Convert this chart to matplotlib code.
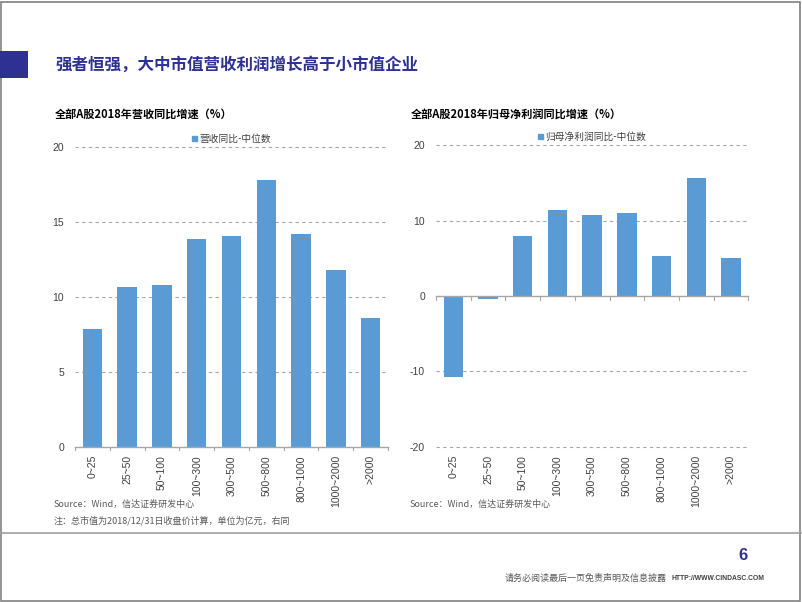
"""Recreate the two-panel market-cap growth chart."""

import matplotlib.pyplot as plt
from matplotlib.patches import Rectangle

plt.rcParams["font.family"] = ["Noto Sans CJK SC", "DejaVu Sans"]

CATEGORIES = ["0~25", "25~50", "50~100", "100~300", "300~500",
              "500~800", "800~1000", "1000~2000", ">2000"]
REVENUE_GROWTH = [7.84, 10.69, 10.78, 13.87, 14.1, 17.84, 14.23, 11.82, 8.62]
PROFIT_GROWTH = [-10.8, -0.4, 7.97, 11.38, 10.71, 10.98, 5.35, 15.71, 5.09]

TITLE = "强者恒强，大中市值营收利润增长高于小市值企业"
LEFT_TITLE = "全部A股2018年营收同比增速（%）"
RIGHT_TITLE = "全部A股2018年归母净利润同比增速（%）"
LEFT_LEGEND = "营收同比-中位数"
RIGHT_LEGEND = "归母净利润同比-中位数"

BAR_COLOR = "#5B9BD5"
NAVY = "#2E3192"
GRID = "#A6A6A6"
TEXT = "#404040"
LATIN = ["Liberation Sans", "DejaVu Sans"]

W, H = 802, 602


def fx(px):
    return px / W


def fy(py):
    return 1 - py / H


def draw_panel(ax, values, yticks, legend):
    x = list(range(len(CATEGORIES)))
    ax.bar(x, values, width=0.56, color=BAR_COLOR, zorder=3)
    ax.set_xlim(-0.5, len(CATEGORIES) - 0.5)
    ax.set_ylim(yticks[0], yticks[-1])
    ax.set_yticks(yticks)
    ax.set_yticklabels([str(t) for t in yticks], fontsize=7.5, color=TEXT,
                       family=LATIN)
    for t in yticks:
        if t != 0:
            ax.axhline(t, color=GRID, lw=0.8, ls=(0, (3, 3)), zorder=1,
                       clip_on=False)
    ax.axhline(0, color=GRID, lw=1.0, zorder=4, clip_on=False)
    # category boundary ticks on the zero line
    for b in range(len(CATEGORIES) + 1):
        ax.plot([b - 0.5, b - 0.5], [0, -(yticks[-1] - yticks[0]) * 0.012],
                color=GRID, lw=0.8, zorder=4, clip_on=False)
    ax.set_xticks(x)
    ax.set_xticklabels(CATEGORIES, rotation=90, fontsize=7.5, color=TEXT,
                       family=LATIN)
    ax.tick_params(axis="both", length=0, pad=6)
    ax.tick_params(axis="y", pad=8)
    for side in ("top", "right", "left", "bottom"):
        ax.spines[side].set_visible(False)
    ax.set_facecolor("none")
    ax.legend([Rectangle((0, 0), 1, 1, color=BAR_COLOR)], [legend],
              loc="lower center", bbox_to_anchor=(0.5, 0.995), frameon=False,
              fontsize=7, handlelength=0.5, handleheight=0.5,
              handletextpad=0.3, labelcolor=TEXT, borderpad=0)


def main() -> None:
    fig = plt.figure(figsize=(W / 100, H / 100), dpi=100)
    fig.patch.set_facecolor("white")

    # page border
    fig.add_artist(Rectangle((0.001, 0.001), 0.997, 0.996,
                             transform=fig.transFigure, fill=False,
                             ec="#808080", lw=1.2))
    # title block
    fig.add_artist(Rectangle((0, fy(78)), fx(28), (78 - 51) / H,
                             transform=fig.transFigure, color=NAVY, lw=0))
    fig.text(fx(55), fy(65), TITLE, fontsize=11.9, fontweight="bold",
             color=NAVY, va="center", ha="left")

    ax1 = fig.add_axes([fx(75), fy(446.7), (388 - 75) / W, (446.7 - 147.3) / H])
    draw_panel(ax1, REVENUE_GROWTH, [0, 5, 10, 15, 20], LEFT_LEGEND)

    ax2 = fig.add_axes([fx(436), fy(446.7), (748.3 - 436) / W,
                        (446.7 - 145.3) / H])
    draw_panel(ax2, PROFIT_GROWTH, [-20, -10, 0, 10, 20], RIGHT_LEGEND)

    fig.text(fx(55), fy(114), LEFT_TITLE, fontsize=8.0, fontweight="bold",
             color="black", va="center")
    fig.text(fx(411), fy(114), RIGHT_TITLE, fontsize=8.0, fontweight="bold",
             color="black", va="center")

    fig.text(fx(54), fy(504), "Source：Wind，信达证券研发中心", fontsize=6.5,
             color="#595959", style="italic", va="center")
    fig.text(fx(54), fy(521), "注：总市值为2018/12/31日收盘价计算，单位为亿元，右同",
             fontsize=6.5, color="#595959", style="italic", va="center")
    fig.text(fx(410), fy(504), "Source：Wind，信达证券研发中心", fontsize=6.5,
             color="#595959", style="italic", va="center")

    # footer
    fig.add_artist(plt.Line2D([0, 1], [fy(533), fy(533)],
                              transform=fig.transFigure, color="#A0A0A0",
                              lw=1.2))
    fig.text(fx(743), fy(556), "6", fontsize=12, fontweight="bold",
             color=NAVY, ha="center", va="center", family=LATIN)
    fig.text(fx(505), fy(578), "请务必阅读最后一页免责声明及信息披露",
             fontsize=6.5, color="#595959", va="center")
    fig.text(fx(671), fy(578), "HTTP://WWW.CINDASC.COM", fontsize=4.85,
             fontweight="bold", color=TEXT, va="center", family=LATIN)

    fig.savefig("out.png", dpi=100)
    plt.close(fig)


if __name__ == "__main__":
    main()
